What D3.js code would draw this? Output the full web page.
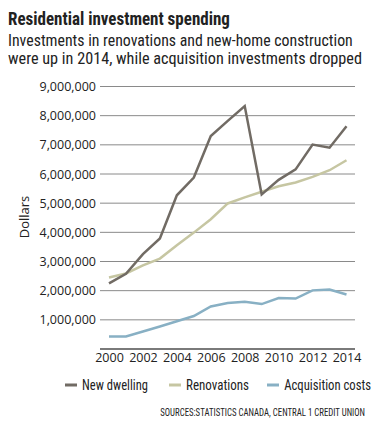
<!DOCTYPE html>
<html>
<head>
<meta charset="utf-8">
<script src="https://cdn.jsdelivr.net/npm/d3@7"></script>
<style>
html,body{margin:0;padding:0;background:#fff;}
svg{display:block;}
</style>
</head>
<body>
<svg id="chart" width="376" height="431"></svg>
<script>
const years = [2000,2001,2002,2003,2004,2005,2006,2007,2008,2009,2010,2011,2012,2013,2014];
const newDwelling = [2250000,2580000,3250000,3790000,5270000,5880000,7300000,7820000,8330000,5300000,5800000,6160000,7010000,6900000,7640000];
const renovations = [2450000,2590000,2870000,3100000,3560000,3990000,4450000,4990000,5200000,5390000,5580000,5710000,5900000,6130000,6470000];
const acquisition = [430000,430000,600000,770000,950000,1130000,1460000,1580000,1620000,1540000,1750000,1730000,2010000,2040000,1870000];
const yTicks = [1000000,2000000,3000000,4000000,5000000,6000000,7000000,8000000,9000000];
const xTicks = [2000,2002,2004,2006,2008,2010,2012,2014];
const seriesNames = ["New dwelling","Renovations","Acquisition costs"];
const seriesColors = ["#716b64","#c6c6a2","#88b0c4"];

const svg = d3.select("#chart");
const narrow = "'Liberation Sans Narrow','Roboto Condensed','DejaVu Sans Condensed',sans-serif";
const body = "'Open Sans','Noto Sans',sans-serif";

// fit a text to a target width by horizontal scaling (keeps natural glyph metrics consistent)
function fitText(sel, x0, yb, w, anchorEnd) {
  const nat = sel.node().getComputedTextLength();
  const s = Math.min(1.2, w / nat);
  sel.attr("x", 0).attr("y", 0)
     .attr("text-anchor", anchorEnd ? "end" : "start")
     .attr("transform", `translate(${anchorEnd ? x0 + w : x0},${yb}) scale(${s},1)`);
}

fitText(svg.append("text")
  .attr("font-family",narrow).attr("font-weight","bold").attr("font-size",18)
  .attr("fill","#222").text("Residential investment spending"), 8, 25, 222, false);
fitText(svg.append("text")
  .attr("font-family",narrow).attr("font-size",16)
  .attr("fill","#222").text("Investments in renovations and new-home construction"), 8, 46, 345, false);
fitText(svg.append("text")
  .attr("font-family",narrow).attr("font-size",16)
  .attr("fill","#222").text("were up in 2014, while acquisition investments dropped"), 8, 64, 354, false);

const x = d3.scaleLinear().domain([2000,2014]).range([109,346.5]);
const y = d3.scaleLinear().domain([0,9000000]).range([349,86.5]);

// gridlines
const grid = svg.append("g");
grid.selectAll("line").data(yTicks).join("line")
  .attr("x1",100).attr("x2",355)
  .attr("y1",d=>y(d)).attr("y2",d=>y(d))
  .attr("stroke","#8a8a8a").attr("stroke-width",1);

// y axis labels
const yAxis = d3.axisLeft(y).tickValues(yTicks).tickSize(0).tickPadding(0)
  .tickFormat(d3.format(","));
const gy = svg.append("g").attr("transform","translate(96,0)").call(yAxis);
gy.select(".domain").remove();
gy.selectAll("text").attr("font-family",body).attr("font-size",12.5).attr("fill","#222");

// baseline
svg.append("line").attr("x1",100).attr("x2",355).attr("y1",y(0)).attr("y2",y(0))
  .attr("stroke","#7a7a7a").attr("stroke-width",2);

// x axis labels
const xAxis = d3.axisBottom(x).tickValues(xTicks).tickSize(0).tickPadding(0)
  .tickFormat(d3.format("d"));
const gx = svg.append("g").attr("transform","translate(0,353)").call(xAxis);
gx.select(".domain").remove();
gx.selectAll("text").attr("font-family",body).attr("font-size",12.5).attr("fill","#222");

svg.append("text").attr("transform","translate(29,217) rotate(-90)")
  .attr("text-anchor","middle").attr("font-family",body).attr("font-size",13)
  .attr("fill","#222").text("Dollars");

const line = d3.line().x((d,i)=>x(years[i])).y(d=>y(d));
[acquisition,renovations,newDwelling].forEach((s,k)=>{
  const idx = [2,1,0][k];
  svg.append("path").datum(s).attr("d",line).attr("fill","none")
    .attr("stroke",seriesColors[idx]).attr("stroke-width",2.5)
    .attr("stroke-linejoin","miter");
});

// legend
const legX = [65,169,267];
const legW = [66,63,87];
seriesNames.forEach((n,i)=>{
  svg.append("line").attr("x1",legX[i]).attr("x2",legX[i]+12).attr("y1",385).attr("y2",385)
    .attr("stroke",seriesColors[i]).attr("stroke-width",3);
  fitText(svg.append("text")
    .attr("font-family",narrow).attr("font-size",14.5).attr("fill","#222").text(n),
    legX[i]+17, 389.5, legW[i], true);
});

fitText(svg.append("text")
  .attr("font-family",narrow).attr("font-size",11.5).attr("fill","#222")
  .text("SOURCES:STATISTICS CANADA, CENTRAL 1 CREDIT UNION"), 160, 416, 205, true);
</script>
</body>
</html>
